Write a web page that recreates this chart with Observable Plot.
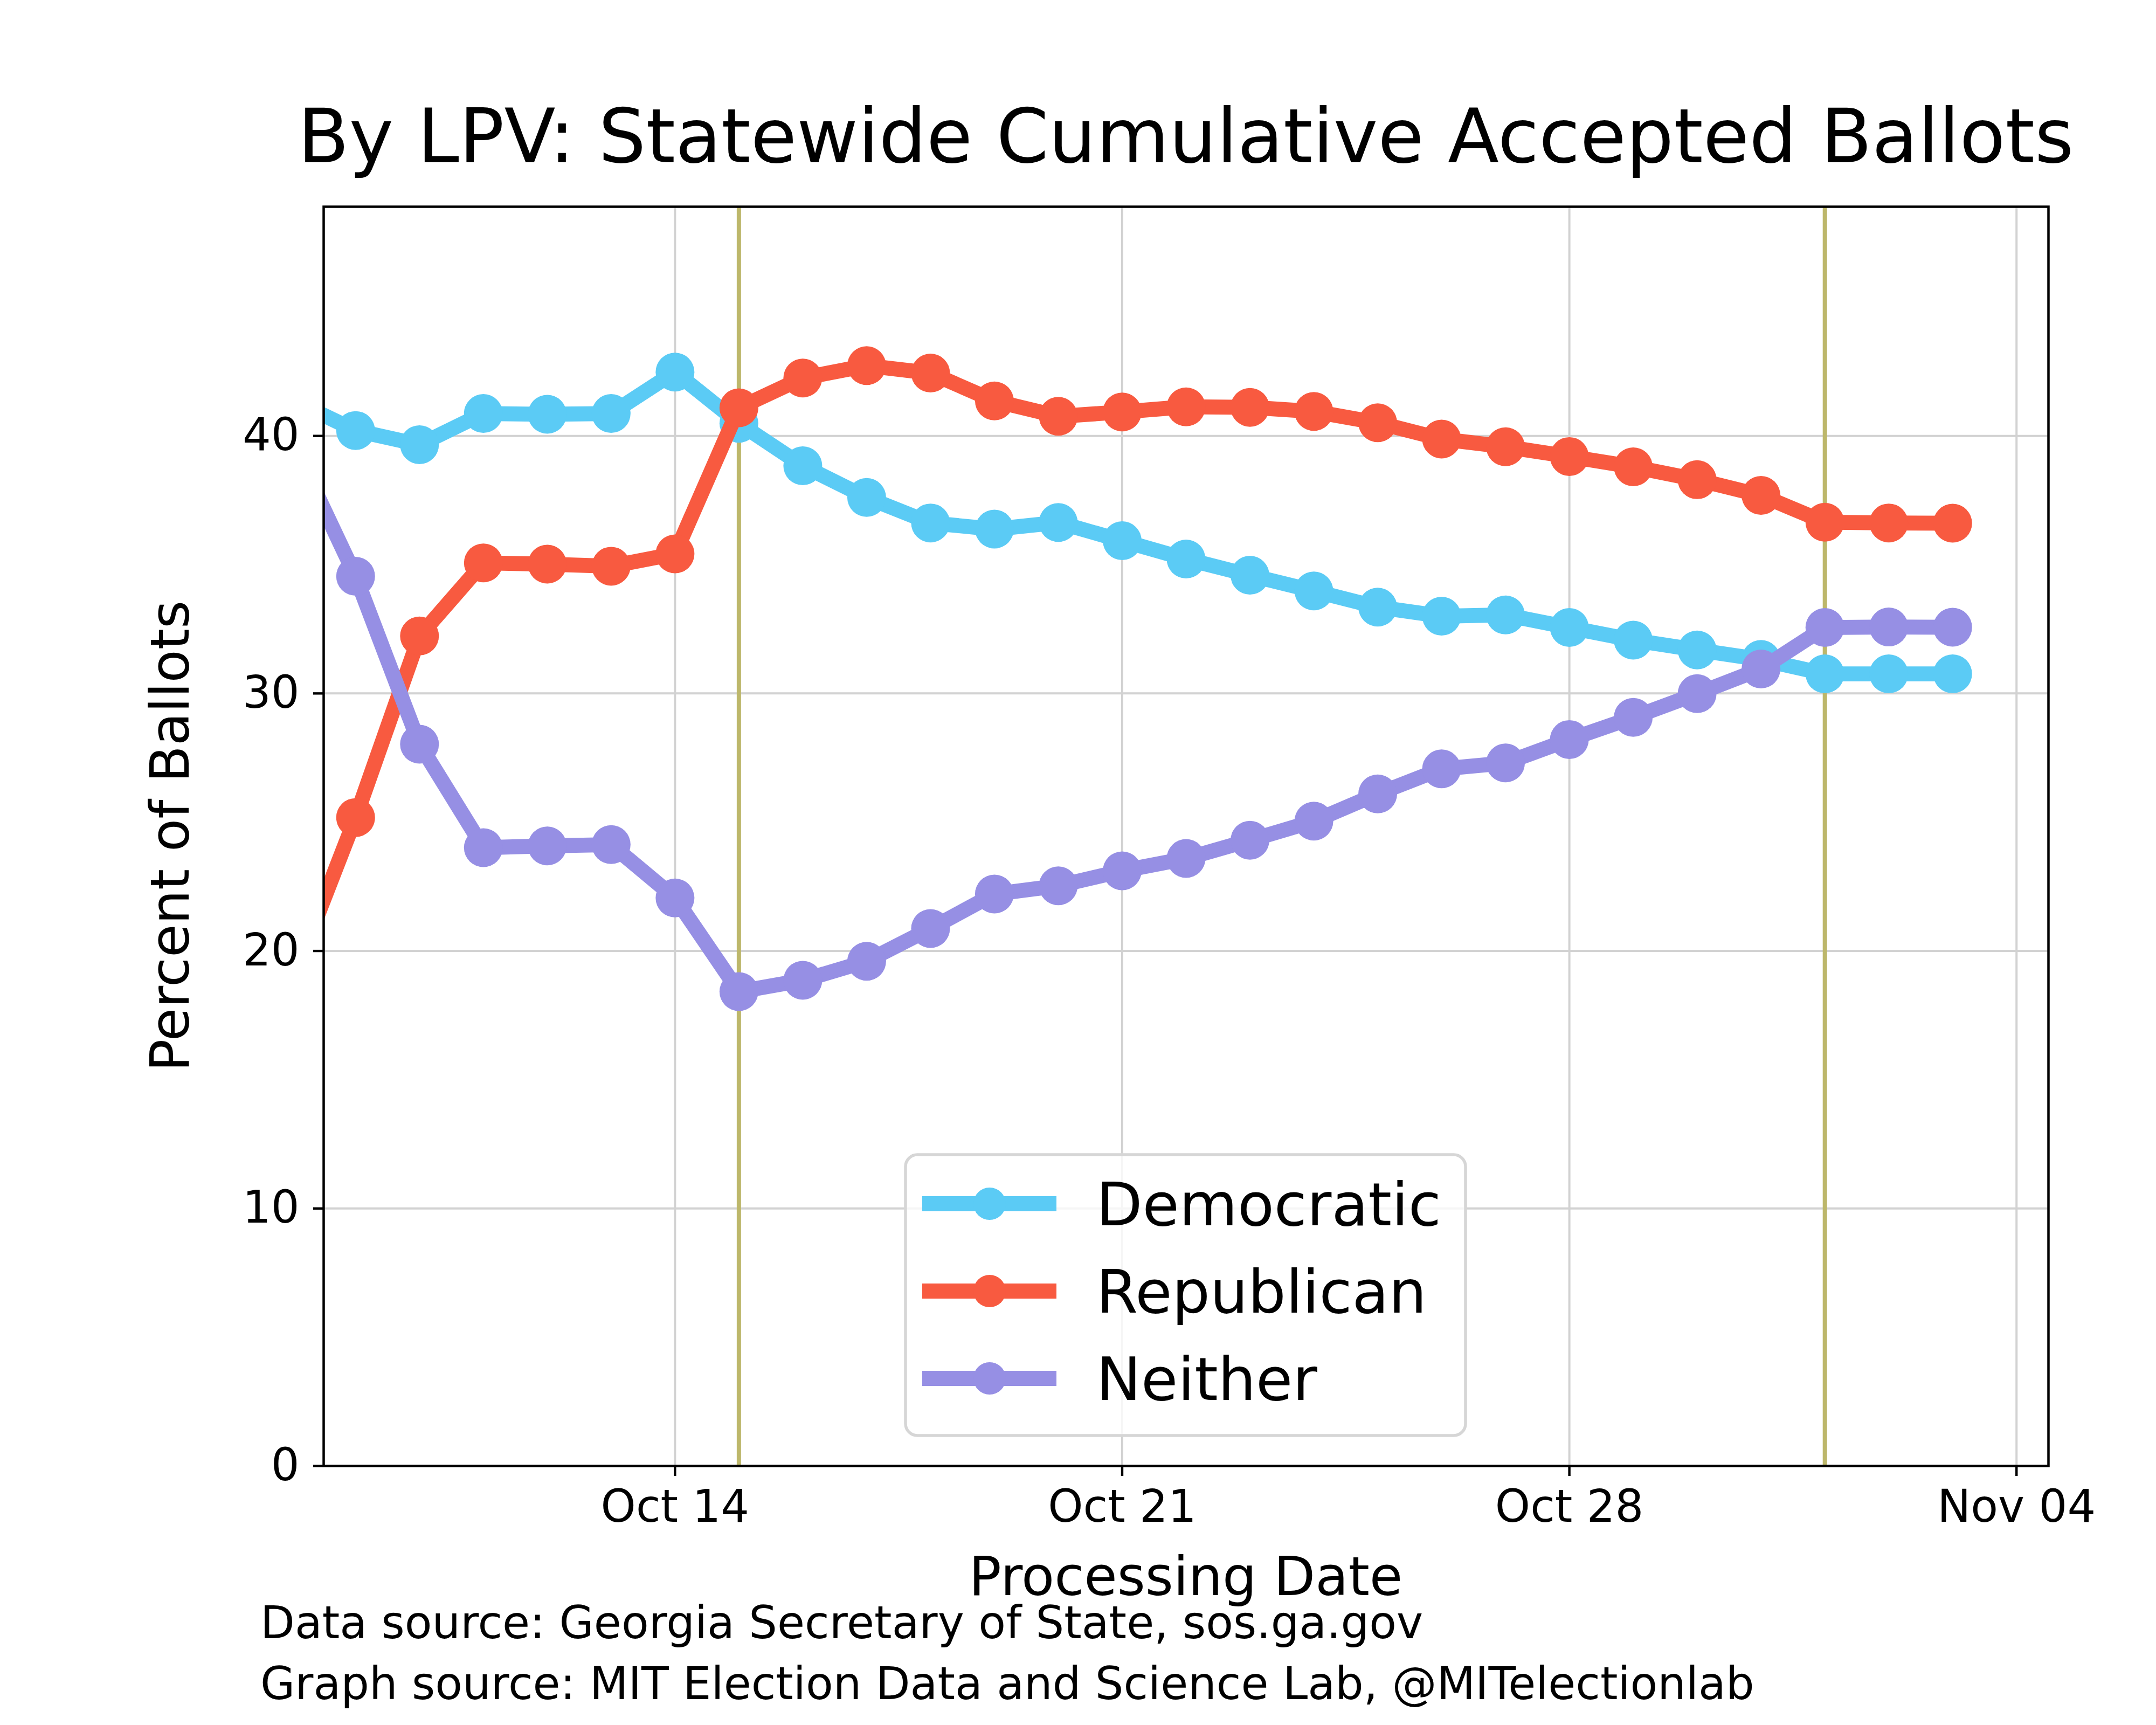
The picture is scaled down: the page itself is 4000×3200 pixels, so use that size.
<!DOCTYPE html>
<html>
<head>
<meta charset="utf-8">
<script src="https://cdn.jsdelivr.net/npm/d3@7"></script>
<script src="https://cdn.jsdelivr.net/npm/@observablehq/plot@0.6"></script>
<style>
  html, body { margin: 0; padding: 0; background: #ffffff; }
  #chart { position: relative; width: 4000px; height: 3200px; }
</style>
</head>
<body>
<div id="chart"></div>
<script>
// ---------------- data ----------------
const dates = [
  "2020-10-08","2020-10-09","2020-10-10","2020-10-11","2020-10-12","2020-10-13","2020-10-14",
  "2020-10-15","2020-10-16","2020-10-17","2020-10-18","2020-10-19","2020-10-20","2020-10-21",
  "2020-10-22","2020-10-23","2020-10-24","2020-10-25","2020-10-26","2020-10-27","2020-10-28",
  "2020-10-29","2020-10-30","2020-10-31","2020-11-01","2020-11-02","2020-11-03"
];
const parties = ["Democratic", "Republican", "Neither"];
const partyColors = ["#5bcbf5", "#f85a40", "#968fe4"];
const democratic = [41.4, 40.21, 39.66, 40.87, 40.84, 40.87, 42.48,
  40.49, 38.84, 37.61, 36.62, 36.38, 36.64, 35.93,
  35.22, 34.59, 33.98, 33.35, 33.0, 33.05, 32.56,
  32.07, 31.69, 31.32, 30.76, 30.76, 30.76];
const republican = [18.8, 25.18, 32.23, 35.07, 35.02, 34.94, 35.42,
  41.09, 42.25, 42.73, 42.44, 41.36, 40.76, 40.93,
  41.13, 41.11, 40.95, 40.51, 39.88, 39.58, 39.2,
  38.8, 38.3, 37.69, 36.65, 36.62, 36.61];
const neither = [39.8, 34.55, 28.03, 24.01, 24.08, 24.13, 22.06,
  18.42, 18.86, 19.6, 20.87, 22.21, 22.53, 23.11,
  23.59, 24.3, 25.04, 26.1, 27.07, 27.3, 28.21,
  29.07, 29.99, 30.95, 32.56, 32.58, 32.57];
const xTickDates = ["2020-10-14", "2020-10-21", "2020-10-28", "2020-11-04"];
const yTicks = [0, 10, 20, 30, 40];
const eventDates = ["2020-10-15", "2020-11-01"];
const xDomain = ["2020-10-08T12:00:00Z", "2020-11-04T12:00:00Z"];
const yDomain = [0, 48.9];

const titleText = "By LPV: Statewide Cumulative Accepted Ballots";
const xLabelText = "Processing Date";
const yLabelText = "Percent of Ballots";
const footerLines = [
  "Data source: Georgia Secretary of State, sos.ga.gov",
  "Graph source: MIT Election Data and Science Lab, @MITelectionlab"
];

// ---------------- build ----------------
const seriesValues = [democratic, republican, neither];
const table = parties.flatMap((p, i) =>
  dates.map((d, j) => ({ party: p, date: new Date(d), value: seriesValues[i][j] }))
);

const W = 4000, H = 3200;
const M = { left: 600, right: 200, top: 383, bottom: 481 };
const FONT = "DejaVu Sans";

const seriesMarks = parties.flatMap(p => {
  const rows = table.filter(d => d.party === p);
  return [
    Plot.line(rows, { x: "date", y: "value", stroke: "party", strokeWidth: 27.8, clip: true,
                      strokeLinejoin: "round", strokeLinecap: "butt" }),
    Plot.dot(rows, { x: "date", y: "value", fill: "party", r: 36, clip: true })
  ];
});

const chart = Plot.plot({
  width: W,
  height: H,
  marginLeft: M.left,
  marginRight: M.right,
  marginTop: M.top,
  marginBottom: M.bottom,
  style: { fontFamily: FONT, fontSize: "83px", color: "black", background: "white", overflow: "visible" },
  x: { type: "utc", domain: xDomain.map(d => new Date(d)) },
  y: { domain: yDomain },
  color: { domain: parties, range: partyColors },
  marks: [
    Plot.gridX({ ticks: xTickDates.map(d => new Date(d)), stroke: "#d2d2d2", strokeOpacity: 1, strokeWidth: 4 }),
    Plot.gridY({ ticks: yTicks, stroke: "#d2d2d2", strokeOpacity: 1, strokeWidth: 4 }),
    Plot.ruleX(eventDates.map(d => new Date(d)), { stroke: "#bdb76b", strokeWidth: 8 }),
    ...seriesMarks,
    Plot.frame({ stroke: "black", strokeWidth: 4.5 }),
    Plot.axisX({ ticks: xTickDates.map(d => new Date(d)), tickFormat: d3.utcFormat("%b %d"),
                 tickSize: 19, tickPadding: 26, fontSize: 83, strokeWidth: 4.4, label: null }),
    Plot.axisY({ ticks: yTicks, tickSize: 19, tickPadding: 26, fontSize: 83, strokeWidth: 4.4, label: null })
  ]
});

document.getElementById("chart").appendChild(chart);

// ---------------- text & legend ----------------
const svg = d3.select(chart);
const frameCx = (M.left + (W - M.right)) / 2;
const frameCy = (M.top + (H - M.bottom)) / 2;

svg.append("text")
  .attr("x", frameCx).attr("y", 300.7)
  .attr("text-anchor", "middle").attr("font-family", FONT).attr("font-size", 139)
  .attr("fill", "black").text(titleText);

svg.append("text")
  .attr("x", frameCx).attr("y", 2959)
  .attr("text-anchor", "middle").attr("font-family", FONT).attr("font-size", 100)
  .attr("fill", "black").text(xLabelText);

svg.append("text")
  .attr("transform", `translate(350,${frameCy}) rotate(-90)`)
  .attr("text-anchor", "middle").attr("font-family", FONT).attr("font-size", 100)
  .attr("fill", "black").text(yLabelText);

footerLines.forEach((t, i) => {
  svg.append("text")
    .attr("x", 483).attr("y", 3039 + i * 113)
    .attr("text-anchor", "start")
    .attr("font-family", FONT).attr("font-size", 83)
    .attr("fill", "black").text(t);
});

// legend
const lg = svg.append("g").attr("transform", "translate(1680,2142)");
lg.append("rect")
  .attr("x", 0).attr("y", 0).attr("width", 1039).attr("height", 521)
  .attr("rx", 22).attr("ry", 22)
  .attr("fill", "white").attr("fill-opacity", 0.8)
  .attr("stroke", "#d6d6d6").attr("stroke-width", 5.5);
parties.forEach((p, i) => {
  const cy = 91 + i * 162;
  lg.append("line")
    .attr("x1", 31).attr("x2", 280).attr("y1", cy).attr("y2", cy)
    .attr("stroke", partyColors[i]).attr("stroke-width", 27.8);
  lg.append("circle")
    .attr("cx", 156).attr("cy", cy).attr("r", 30).attr("fill", partyColors[i]);
  lg.append("text")
    .attr("x", 354).attr("y", cy + 39.5)
    .attr("text-anchor", "start")
    .attr("font-family", FONT).attr("font-size", 111)
    .attr("fill", "black").text(p);
});
</script>
</body>
</html>
